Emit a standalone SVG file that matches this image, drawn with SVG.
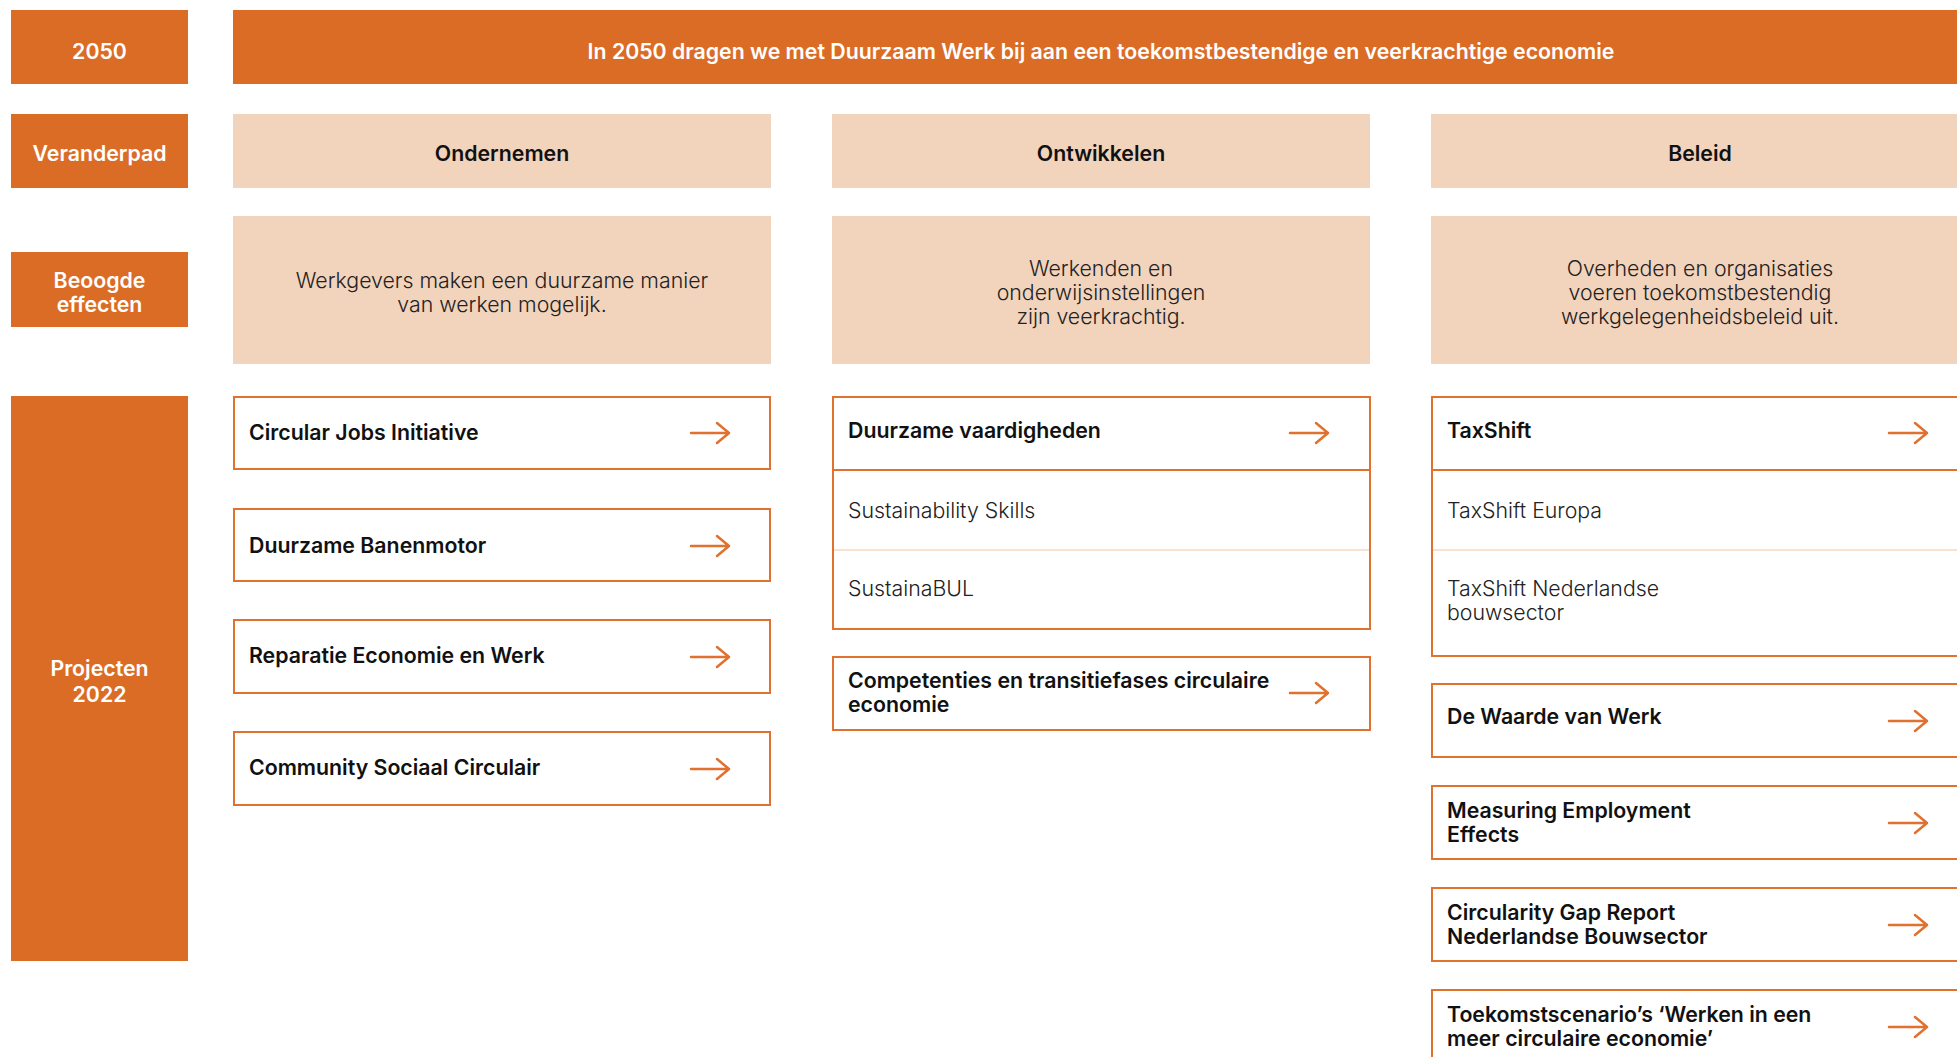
<svg xmlns="http://www.w3.org/2000/svg" xmlns:xlink="http://www.w3.org/1999/xlink" width="1957" height="1057" viewBox="0 0 1957 1057">
<style>
text{font-family:Inter,"Liberation Sans",sans-serif}
.lbl{fill:#DB6C26}
.lt{fill:#fff;font-size:21.3px;font-weight:600;text-anchor:middle}
.hdr{fill:#F2D3BC}
.ht{fill:#111;font-size:21.3px;font-weight:600;text-anchor:middle}
.et{fill:#222;font-size:21.3px;font-weight:300;text-anchor:middle}
.box{fill:#fff;stroke:#E0712F;stroke-width:2}
.div{stroke:#E0712F;stroke-width:2}
.divl{stroke:#F3C3A2;stroke-width:1.2}
.pt{fill:#111;font-size:21.3px;font-weight:600}
.st{fill:#222;font-size:21.3px;font-weight:300}
</style>
<defs>
<path id="arr" d="M0 0H38M26 -10L38 0L26 10" fill="none" stroke="#E0712F" stroke-width="2.5" stroke-linecap="round" stroke-linejoin="round"/>
</defs>
<rect width="1957" height="1057" fill="#fff"/>

<g id="label-2050"><rect class="lbl" x="11" y="10" width="177" height="74"/><text class="lt" x="99.5" y="58.5">2050</text></g>
<g id="banner"><rect class="lbl" x="233" y="10" width="1736" height="74"/><text class="lt" x="1101" y="58.5">In 2050 dragen we met Duurzaam Werk bij aan een toekomstbestendige en veerkrachtige economie</text></g>

<g id="label-veranderpad"><rect class="lbl" x="11" y="114" width="177" height="74"/><text class="lt" x="99.5" y="160.5">Veranderpad</text></g>
<g id="hdr-ondernemen"><rect class="hdr" x="233" y="114" width="538" height="74"/><text class="ht" x="502" y="160.5">Ondernemen</text></g>
<g id="hdr-ontwikkelen"><rect class="hdr" x="832" y="114" width="538" height="74"/><text class="ht" x="1101" y="160.5">Ontwikkelen</text></g>
<g id="hdr-beleid"><rect class="hdr" x="1431" y="114" width="538" height="74"/><text class="ht" x="1700" y="160.5">Beleid</text></g>

<g id="label-beoogde"><rect class="lbl" x="11" y="252" width="177" height="75"/><text class="lt" x="99.5" y="288">Beoogde</text><text class="lt" x="99.5" y="312">effecten</text></g>
<g id="eff-ondernemen"><rect class="hdr" x="233" y="216" width="538" height="148"/><text class="et" x="502" y="288">Werkgevers maken een duurzame manier</text><text class="et" x="502" y="312">van werken mogelijk.</text></g>
<g id="eff-ontwikkelen"><rect class="hdr" x="832" y="216" width="538" height="148"/><text class="et" x="1101" y="276">Werkenden en</text><text class="et" x="1101" y="300">onderwijsinstellingen</text><text class="et" x="1101" y="324">zijn veerkrachtig.</text></g>
<g id="eff-beleid"><rect class="hdr" x="1431" y="216" width="538" height="148"/><text class="et" x="1700" y="276">Overheden en organisaties</text><text class="et" x="1700" y="300">voeren toekomstbestendig</text><text class="et" x="1700" y="324">werkgelegenheidsbeleid uit.</text></g>

<g id="label-projecten"><rect class="lbl" x="11" y="396" width="177" height="565"/><text class="lt" x="99.5" y="676">Projecten</text><text class="lt" x="99.5" y="702">2022</text></g>

<g id="p-circular-jobs"><rect class="box" x="234" y="397" width="536" height="72"/><text class="pt" x="249" y="440">Circular Jobs Initiative</text><use xlink:href="#arr" x="691" y="433"/></g>
<g id="p-banenmotor"><rect class="box" x="234" y="509" width="536" height="72"/><text class="pt" x="249" y="553">Duurzame Banenmotor</text><use xlink:href="#arr" x="691" y="546"/></g>
<g id="p-reparatie"><rect class="box" x="234" y="620" width="536" height="73"/><text class="pt" x="249" y="663">Reparatie Economie en Werk</text><use xlink:href="#arr" x="691" y="657"/></g>
<g id="p-community"><rect class="box" x="234" y="732" width="536" height="73"/><text class="pt" x="249" y="775">Community Sociaal Circulair</text><use xlink:href="#arr" x="691" y="769"/></g>

<g id="p-duurzame-vaardigheden"><rect class="box" x="833" y="397" width="537" height="232"/><line class="div" x1="833" y1="470" x2="1370" y2="470"/><line class="divl" x1="834" y1="550" x2="1369" y2="550"/><text class="pt" x="848" y="438">Duurzame vaardigheden</text><use xlink:href="#arr" x="1290" y="433"/><text class="st" x="848" y="518">Sustainability Skills</text><text class="st" x="848" y="596">SustainaBUL</text></g>
<g id="p-competenties"><rect class="box" x="833" y="657" width="537" height="73"/><text class="pt" x="848" y="688">Competenties en transitiefases circulaire</text><text class="pt" x="848" y="712">economie</text><use xlink:href="#arr" x="1290" y="693"/></g>

<g id="p-taxshift"><rect class="box" x="1432" y="397" width="537" height="259"/><line class="div" x1="1432" y1="470" x2="1969" y2="470"/><line class="divl" x1="1433" y1="550" x2="1969" y2="550"/><text class="pt" x="1447" y="438">TaxShift</text><use xlink:href="#arr" x="1889" y="433"/><text class="st" x="1447" y="518">TaxShift Europa</text><text class="st" x="1447" y="596">TaxShift Nederlandse</text><text class="st" x="1447" y="620">bouwsector</text></g>
<g id="p-waarde-van-werk"><rect class="box" x="1432" y="684" width="537" height="73"/><text class="pt" x="1447" y="724">De Waarde van Werk</text><use xlink:href="#arr" x="1889" y="721"/></g>
<g id="p-measuring"><rect class="box" x="1432" y="786" width="537" height="73"/><text class="pt" x="1447" y="818">Measuring Employment</text><text class="pt" x="1447" y="842">Effects</text><use xlink:href="#arr" x="1889" y="823"/></g>
<g id="p-circularity-gap"><rect class="box" x="1432" y="888" width="537" height="73"/><text class="pt" x="1447" y="920">Circularity Gap Report</text><text class="pt" x="1447" y="944">Nederlandse Bouwsector</text><use xlink:href="#arr" x="1889" y="925"/></g>
<g id="p-toekomstscenarios"><rect class="box" x="1432" y="990" width="537" height="90"/><text class="pt" x="1447" y="1022">Toekomstscenario’s ‘Werken in een</text><text class="pt" x="1447" y="1046">meer circulaire economie’</text><use xlink:href="#arr" x="1889" y="1027"/></g>

<g id="connectors"/>
</svg>
